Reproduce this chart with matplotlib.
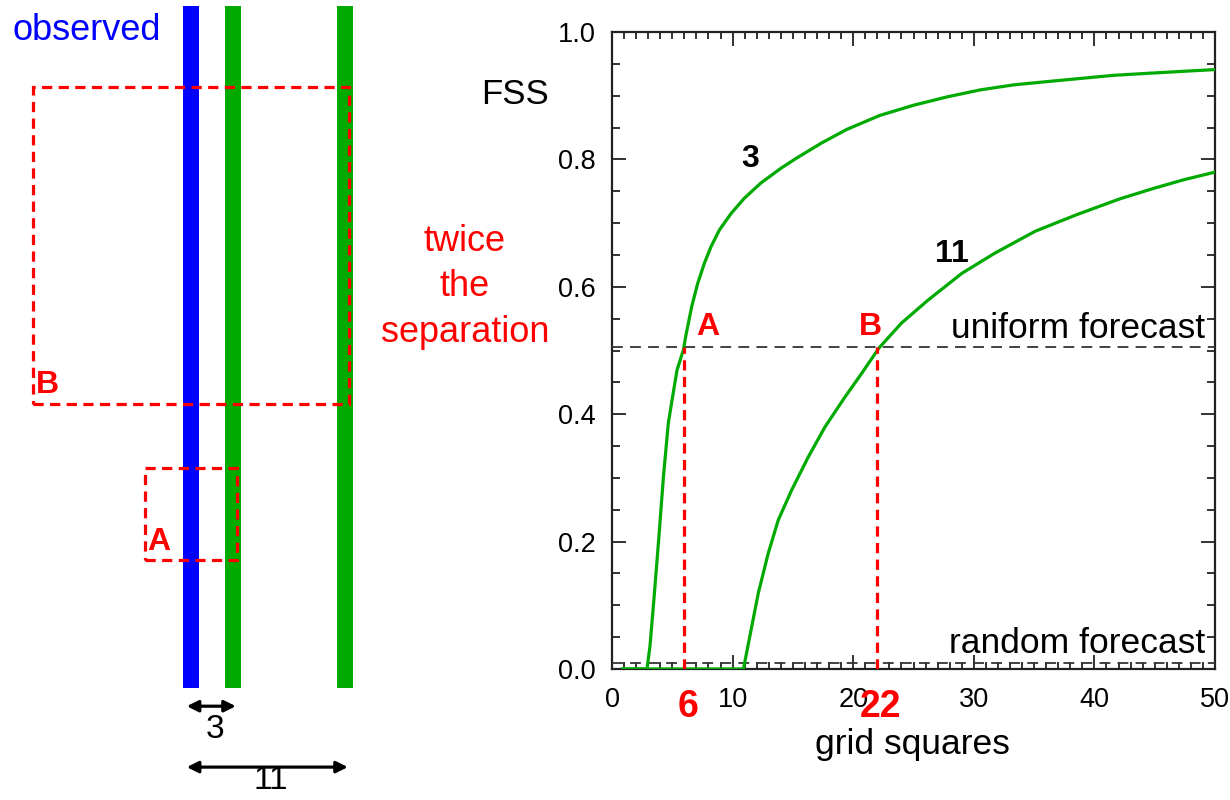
import matplotlib.pyplot as plt
from matplotlib.patches import Rectangle
import numpy as np

plt.rcParams['font.family'] = ['Liberation Sans', 'DejaVu Sans']

# FSS curves, one per separation (grid squares)
x_sep3 = [0.9, 2.9, 3.15, 3.47, 3.87, 4.27, 4.67, 5.03, 5.39, 5.92, 6.14, 6.61,
          7.1, 7.66, 8.21, 8.9, 9.87, 10.97, 12.35, 14.0, 15.3, 17.4, 19.46,
          22.2, 25.0, 27.75, 30.5, 33.3, 36.0, 38.8, 41.6, 44.3, 47.1, 50.0]
fss_sep3 = [0.0, 0.0, 0.036, 0.108, 0.203, 0.303, 0.386, 0.428, 0.469, 0.501,
            0.525, 0.569, 0.605, 0.637, 0.663, 0.689, 0.715, 0.739, 0.763,
            0.786, 0.802, 0.826, 0.847, 0.869, 0.885, 0.898, 0.909, 0.917,
            0.922, 0.927, 0.932, 0.935, 0.938, 0.941]
x_sep11 = [0.9, 10.9, 11.58, 12.13, 12.96, 13.79, 14.9, 16.28, 17.66, 19.32,
           20.7, 22.14, 24.0, 26.2, 29.0, 31.76, 35.07, 38.5, 42.1, 45.0, 47.4,
           50.0]
fss_sep11 = [0.0, 0.0, 0.066, 0.119, 0.182, 0.234, 0.281, 0.333, 0.380, 0.427,
             0.464, 0.504, 0.543, 0.579, 0.621, 0.653, 0.687, 0.713, 0.738,
             0.755, 0.768, 0.78]

separations = [3, 11]
crossings = [6, 22]          # twice the separation
crossing_names = ['A', 'B']
uniform_fss = 0.505
random_fss = 0.01

green = '#00aa00'
red = '#ff0000'
blue = '#0000ff'

fig = plt.figure(figsize=(12.3, 8), dpi=100)

# ---- left panel: schematic of observed / forecast bands
axl = fig.add_axes([0, 0, 400 / 1230, 1])
axl.set_xlim(-191 / 14, 209 / 14)
axl.set_ylim(0, 800 / 14)
axl.axis('off')

bar_w = 1.1
bar_bot, bar_top = 8.0, 56.7
axl.add_patch(Rectangle((-bar_w / 2, bar_bot), bar_w, bar_top - bar_bot, color=blue, lw=0))
for s in separations:
    axl.add_patch(Rectangle((s - bar_w / 2, bar_bot), bar_w, bar_top - bar_bot, color=green, lw=0))

# boxes of size twice the separation
box_centers = [20.43, 39.6]
for s, yc, name in zip(separations, box_centers, crossing_names):
    half = s + 0.3
    axl.add_patch(Rectangle((-half, yc - half), 2 * half, 2 * half, fill=False,
                            ec=red, lw=2.3, ls=(0, (3.2, 2.0)), zorder=5))
    axl.text(-half + 0.2, yc - half + 0.25, name, color=red, fontsize=23,
             fontweight='bold', ha='left', va='bottom', zorder=6)

# separation arrows
arrow_y = [6.7, 2.35]
label_y = [5.0, 1.4]
for s, ya, yl in zip(separations, arrow_y, label_y):
    axl.annotate('', xy=(s + 0.2, ya), xytext=(-0.3, ya),
                 arrowprops=dict(arrowstyle='<|-|>', color='black', lw=2.3,
                                 mutation_scale=17, shrinkA=0, shrinkB=0))
    axl.text(s / 2 + 0.2, yl, str(s), fontsize=24, ha='center', va='center')

fig.text(12 / 1230, 1 - 30 / 800, 'observed', color=blue, fontsize=26,
         ha='left', va='center')
fig.text(465 / 1230, 1 - 287 / 800, 'twice\nthe\nseparation', color=red,
         fontsize=26, ha='center', va='center', multialignment='center',
         linespacing=1.4)
fig.text(515 / 1230, 1 - 95 / 800, 'FSS', fontsize=25, ha='center', va='center')

# ---- right panel: FSS against neighbourhood size
ax = fig.add_axes([612 / 1230, 131 / 800, 603 / 1230, 637 / 800])
ax.plot(x_sep3, fss_sep3, color=green, lw=2.3, zorder=4, solid_joinstyle='round')
ax.plot(x_sep11, fss_sep11, color=green, lw=2.3, zorder=4, solid_joinstyle='round')

ax.axhline(uniform_fss, color='#333333', lw=1.3, ls=(0, (6, 4)), zorder=3)
ax.axhline(random_fss, color='#333333', lw=1.3, ls=(0, (6, 4)), zorder=3)

for xc, name in zip(crossings, crossing_names):
    ax.plot([xc, xc], [0, uniform_fss], color=red, lw=2.3, ls=(0, (3.2, 2.0)), zorder=5)
    ax.text(xc + 0.3, -0.06, str(xc), color=red, fontsize=27, fontweight='bold',
            ha='center', va='center', transform=ax.get_xaxis_transform())

ax.text(7.95, 0.537, 'A', color=red, fontsize=23, fontweight='bold', ha='center', va='center')
ax.text(21.4, 0.537, 'B', color=red, fontsize=23, fontweight='bold', ha='center', va='center')
ax.text(11.45, 0.80, '3', fontsize=23, fontweight='bold', ha='center', va='center')
ax.text(28.2, 0.652, '11', fontsize=23, fontweight='bold', ha='center', va='center')
ax.text(49.2, 0.535, 'uniform forecast', fontsize=25.5, ha='right', va='center')
ax.text(49.2, 0.04, 'random forecast', fontsize=25.5, ha='right', va='center')

ax.set_xlim(0, 50)
ax.set_ylim(0, 1.0)
ax.set_xticks(np.arange(0, 51, 10))
ax.set_xticks(np.arange(0, 51, 1), minor=True)
ax.set_yticks(np.arange(0, 1.01, 0.2))
ax.set_yticks(np.arange(0, 1.01, 0.05), minor=True)
ax.set_yticklabels(['%.1f' % v for v in np.arange(0, 1.01, 0.2)])
ax.tick_params(which='both', direction='in', top=True, right=True, width=1.3, colors='#222222')
ax.tick_params(which='major', length=10, labelsize=19.5, labelcolor='black')
ax.tick_params(axis='x', which='major', pad=13)
ax.tick_params(axis='y', which='major', pad=12)
ax.tick_params(axis='x', which='minor', length=5)
ax.tick_params(axis='y', which='minor', length=6)
for sp in ax.spines.values():
    sp.set_linewidth(1.6)
    sp.set_color('#222222')

ax.set_xlabel('grid squares', fontsize=25.5)
ax.xaxis.set_label_coords(0.4975, -0.119)
ax.xaxis.label.set_va('center')

fig.savefig('out.png', dpi=100)
